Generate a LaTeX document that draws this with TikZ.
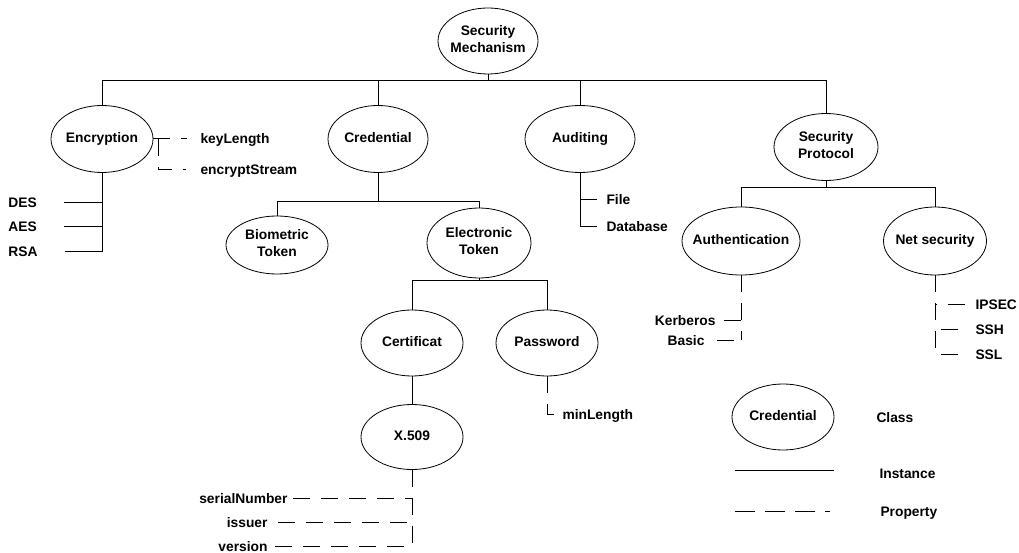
\documentclass[tikz,border=0pt]{standalone}
\usepackage{fontspec}
\setmainfont{Liberation Sans}
\usetikzlibrary{shapes.geometric}
\newcommand{\ovaltext}[1]{\makebox[0pt]{\begin{tabular}{@{}c@{}}#1\end{tabular}}}

\begin{document}
\begin{tikzpicture}[x=1pt, y=-1pt, line width=1pt,
    every node/.style={font=\bfseries\fontsize{13.8}{17}\selectfont},
    cls/.style={draw, ellipse, line width=.8pt, inner sep=0pt, minimum width=102pt, minimum height=66pt},
    lbl/.style={inner sep=0pt, text height=10pt, text depth=0pt},
    prop/.style={dash pattern=on 17pt off 11pt}]
    \useasboundingbox (0, 0) rectangle (1019, 553);

    \node [cls, minimum width=100pt] (root) at (488, 41) {\ovaltext{Security\\Mechanism}};
    \node [cls, minimum height=67pt] (enc) at (102, 139) {\ovaltext{Encryption}};
    \node [cls, minimum width=100pt, minimum height=67pt] (cred) at (378, 139) {\ovaltext{Credential}};
    \node [cls, minimum width=110pt, minimum height=67pt] (aud) at (580, 139) {\ovaltext{Auditing}};
    \node [cls, minimum width=104pt, minimum height=67pt] (sp) at (826, 147) {\ovaltext{Security\\Protocol}};

    \node [cls, minimum height=58pt] (bio) at (277, 245) {\ovaltext{Biometric\\Token}};
    \node [cls, minimum width=104pt, minimum height=70pt] (et) at (479, 243) {\ovaltext{Electronic\\Token}};
    \node [cls] (cert) at (412, 343) {\ovaltext{Certificat}};
    \node [cls] (pwd) at (547, 343) {\ovaltext{Password}};
    \node [cls, minimum height=65pt] (x509) at (412, 437) {\ovaltext{X.509}};

    \node [cls, minimum width=118pt, minimum height=68pt] (auth) at (741, 241) {\ovaltext{Authentication}};
    \node [cls, minimum width=103pt, minimum height=68pt] (ns) at (935, 241) {\ovaltext{Net security}};

    \coordinate (topbar) at (0, 81);
    \coordinate (credbar) at (0, 202);
    \coordinate (etbar) at (0, 280);
    \coordinate (spbar) at (0, 188);

    \draw (root.south) -- (root.south |- topbar);
    \draw (enc.north) -- (enc.north |- topbar) -- (sp.north |- topbar) -- (sp.north);
    \draw (cred.north) -- (cred.north |- topbar);
    \draw (aud.north) -- (aud.north |- topbar);

    \draw (cred.south) -- (cred.south |- credbar);
    \draw (bio.north) -- (bio.north |- credbar) -- (et.north |- credbar) -- (et.north);
    \draw (et.south) -- (et.south |- etbar);
    \draw (cert.north) -- (cert.north |- etbar) -- (pwd.north |- etbar) -- (pwd.north);
    \draw (cert.south) -- (x509.north);

    \draw (sp.south) -- (sp.south |- spbar);
    \draw (auth.north) -- (auth.north |- spbar) -- (ns.north |- spbar) -- (ns.north);

    % encryption
    \node [lbl, anchor=west] (keylen) at (200, 139) {keyLength};
    \node [lbl, anchor=west] (estream) at (200, 170) {encryptStream};
    \draw [prop] (enc.east) -- ([xshift=-13pt]keylen.west);
    \draw [prop] ([xshift=5pt]enc.east) |- ([xshift=-14pt]estream.west);
    \node [lbl, anchor=west] (des) at (8, 203) {DES};
    \node [lbl, anchor=west] (aes) at (8, 227) {AES};
    \node [lbl, anchor=west] (rsa) at (8, 252) {RSA};
    \draw (enc.south) -- (enc.south |- rsa) -- ([xshift=27pt]rsa.east);
    \draw ([xshift=27pt]des.east) -- (des -| enc.south);
    \draw ([xshift=27pt]aes.east) -- (aes -| enc.south);

    % auditing
    \node [lbl, anchor=west] (file) at (606, 200) {File};
    \node [lbl, anchor=west] (db) at (606, 227) {Database};
    \draw (aud.south) -- (aud.south |- db) -- ([xshift=-9pt]db.west);
    \draw ([xshift=-9pt]file.west) -- (file -| aud.south);

    % password, x.509
    \node [lbl, anchor=west] (minlen) at (562, 414) {minLength};
    \draw [prop] (pwd.south) |- ([xshift=-6pt]minlen.west);
    \node [lbl, anchor=east] (serial) at (288, 498) {serialNumber};
    \node [lbl, anchor=east] (issuer) at (268, 522) {issuer};
    \node [lbl, anchor=east] (version) at (268, 546) {version};
    \draw [prop] (x509.south) -- (x509.south |- version) -- ([xshift=4pt]version.east);
    \draw [prop] ([xshift=5pt]serial.east) -- (serial -| x509.south);
    \draw [prop] ([xshift=10pt]issuer.east) -- (issuer -| x509.south);

    % authentication, net security
    \node [lbl, anchor=east] (kerb) at (716, 320) {Kerberos};
    \node [lbl, anchor=east] (basic) at (705, 340) {Basic};
    \draw [prop] (auth.south) -- (auth.south |- basic);
    \draw [prop] ([xshift=8pt]kerb.east) -- (kerb -| auth.south);
    \draw [prop] ([xshift=12pt]basic.east) -- (basic -| auth.south);
    \node [lbl, anchor=west] (ipsec) at (975, 304) {IPSEC};
    \node [lbl, anchor=west] (ssh) at (975, 329) {SSH};
    \node [lbl, anchor=west] (ssl) at (975, 354) {SSL};
    \draw [prop] (ns.south) -- (ns.south |- ssl);
    \draw [prop] ([xshift=-10pt]ipsec.west) -- (ipsec -| ns.south);
    \draw [prop] ([xshift=-17pt]ssh.west) -- (ssh -| ns.south);
    \draw [prop] ([xshift=-17pt]ssl.west) -- (ssl -| ns.south);

    % legend
    \node [cls] (legcls) at (783, 417) {\ovaltext{Credential}};
    \node [lbl, anchor=west] (classtxt) at (876, 417) {Class};
    \node [lbl, anchor=west] (insttxt) at (879, 473) {Instance};
    \node [lbl, anchor=west] (proptxt) at (880, 511) {Property};
    \coordinate (inst0) at (735, 470);
    \coordinate (inst1) at (834, 470);
    \coordinate (prop0) at (735, 511);
    \coordinate (prop1) at (830, 511);
    \draw (inst0) -- (inst1);
    \draw [dash pattern=on 20pt off 10pt] (prop0) -- (prop1);
\end{tikzpicture}
\end{document}
